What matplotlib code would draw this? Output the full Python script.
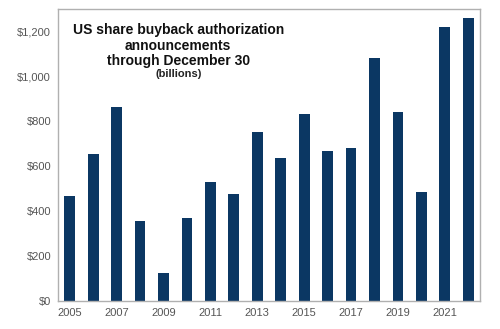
import matplotlib.pyplot as plt
import numpy as np

plt.rcParams['font.family'] = ['Liberation Sans', 'DejaVu Sans']

years = [2005, 2006, 2007, 2008, 2009, 2010, 2011, 2012, 2013,
         2014, 2015, 2016, 2017, 2018, 2019, 2020, 2021, 2022]
buybacks = [467, 655, 862, 357, 126, 369, 530, 476, 752,
            637, 831, 667, 683, 1083, 839, 483, 1219, 1261]
yticks = [0, 200, 400, 600, 800, 1000, 1200]
ylabels = ['$0', '$200', '$400', '$600', '$800', '$1,000', '$1,200']

fig = plt.figure(figsize=(5, 3.29), dpi=100)
ax = fig.add_axes([0.116, 0.085, 0.844, 0.888])

x = np.arange(len(years))
ax.bar(x, buybacks, width=0.46, color='#0b3763')

ax.set_xlim(-0.5, len(years) - 0.5)
ax.set_ylim(0, 1300)
ax.set_yticks(yticks)
ax.set_yticklabels(ylabels)
ax.set_xticks(x[::2])
ax.set_xticklabels([str(y) for y in years[::2]])
ax.tick_params(length=0, labelsize=8, colors='#555555', pad=5)

for s in ax.spines.values():
    s.set_color('#b0b0b0')
    s.set_linewidth(1)

ax.text(0.285, 0.95, 'US share buyback authorization\nannouncements\nthrough December 30',
        transform=ax.transAxes, ha='center', va='top', fontsize=10,
        fontweight='bold', color='#111111', linespacing=1.1)
ax.text(0.285, 0.795, '(billions)', transform=ax.transAxes, ha='center',
        va='top', fontsize=8, fontweight='bold', color='#222222')

fig.savefig('out.png')
